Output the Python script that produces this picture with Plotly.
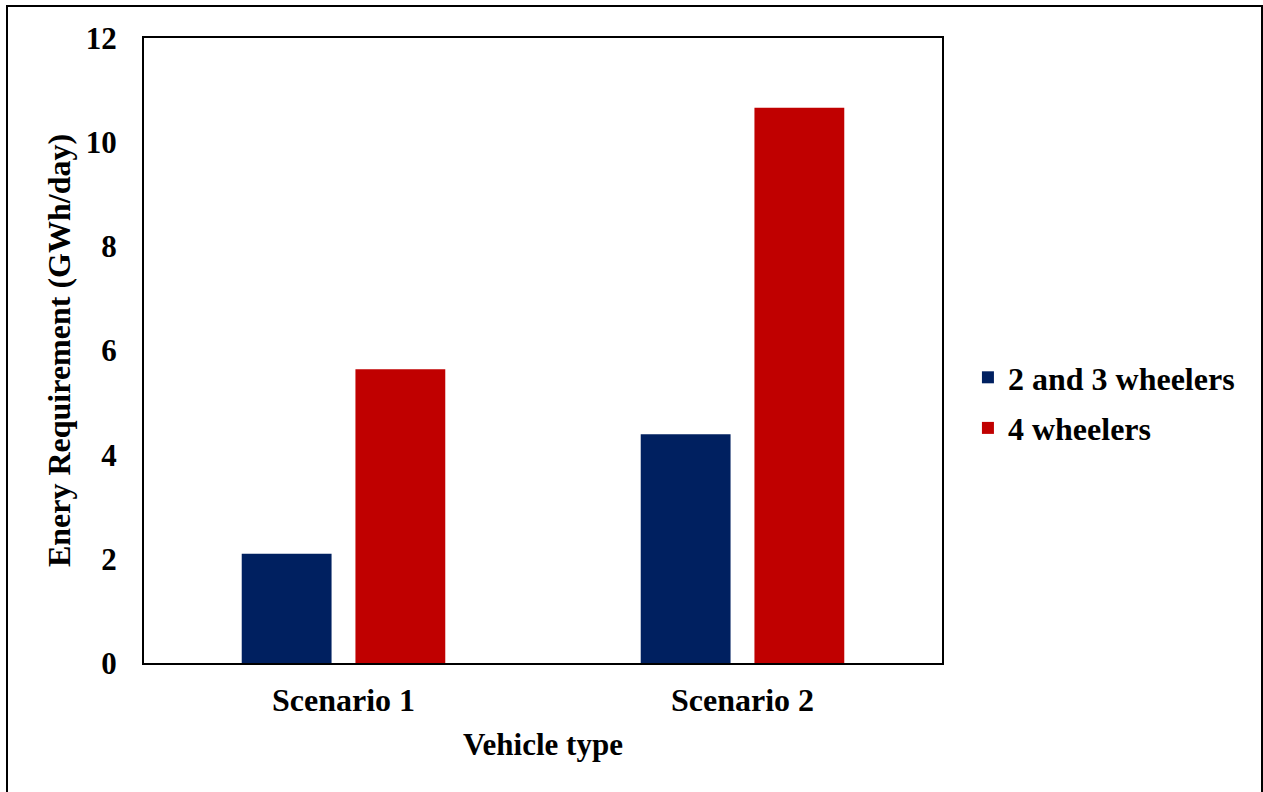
import plotly.graph_objects as go

# Daily energy requirement by scenario and vehicle class
scenarios = ["Scenario 1", "Scenario 2"]
two_three_wheelers = [2.10, 4.39]
four_wheelers = [5.64, 10.66]

y_ticks = [0, 2, 4, 6, 8, 10, 12]

FONT = "Liberation Serif, Times New Roman, serif"
W, H = 1263, 792
L, R, T, B = 144, 321, 38, 129
pw, ph = W - L - R, H - T - B

fig = go.Figure()
fig.add_trace(go.Bar(
    x=scenarios, y=two_three_wheelers, name="2 and 3 wheelers",
    legendgroup="g1",
    marker=dict(color="#002060", line=dict(width=0)),
))
fig.add_trace(go.Bar(
    x=scenarios, y=four_wheelers, name="4 wheelers",
    legendgroup="g2",
    marker=dict(color="#C00000", line=dict(width=0)),
))

# outer frame around the whole chart
fig.add_shape(
    type="rect", xref="paper", yref="paper",
    x0=(7 - L) / pw, x1=(1262 - L) / pw,
    y0=(H - B - 800) / ph, y1=(H - B - 6) / ph,
    line=dict(color="black", width=2), fillcolor="rgba(0,0,0,0)", layer="below",
)

fig.update_layout(
    width=W, height=H,
    margin=dict(l=L, r=R, t=T, b=B),
    paper_bgcolor="white", plot_bgcolor="white",
    barmode="group", bargap=0.43, bargroupgap=0.21,
    font=dict(family=FONT, size=30, color="black"),
    showlegend=True,
    legend=dict(
        x=1.0325, y=(H - B - 403) / ph, xanchor="left", yanchor="middle",
        font=dict(family=FONT, size=32, color="black", weight="bold"),
        bgcolor="rgba(0,0,0,0)",
        traceorder="grouped", tracegroupgap=6,
    ),
    xaxis=dict(
        showline=True, linecolor="black", linewidth=2, mirror=True,
        showgrid=False, ticks="",
        tickfont=dict(family=FONT, size=32, color="black", weight="bold"),
        ticklabelstandoff=8,
        title=dict(text="Vehicle type", standoff=16,
                   font=dict(family=FONT, size=31, color="black", weight="bold")),
    ),
    yaxis=dict(
        range=[0, 12], tickvals=y_ticks,
        showline=True, linecolor="black", linewidth=2, mirror=True,
        showgrid=False, zeroline=False, ticks="",
        tickfont=dict(family=FONT, size=31, color="black", weight="bold"),
        ticklabelstandoff=19,
        title=dict(text="Enery Requirement (GWh/day)", standoff=6,
                   font=dict(family=FONT, size=32, color="black", weight="bold")),
    ),
)

fig.write_html("out.html")
